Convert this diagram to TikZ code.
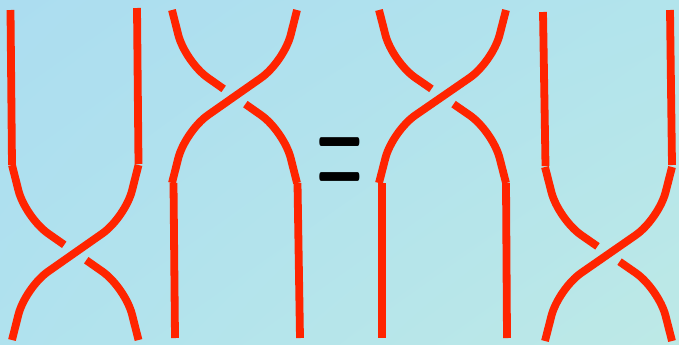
\documentclass[tikz,border=0pt]{standalone}
\usepackage{graphicx}
\usetikzlibrary{shadings}
\definecolor{strandred}{RGB}{255,36,0}
\definecolor{bgTL}{RGB}{172,221,240}
\definecolor{bgTR}{RGB}{178,228,236}
\definecolor{bgBL}{RGB}{176,226,238}
\definecolor{bgBR}{RGB}{189,233,230}
\tikzset{strand/.style={draw=strandred,line width=7.8bp,line cap=butt,rounded corners=28bp}}
\newcommand\braidcross[4]{% x0 y0 w h
  % under strand, top-left to bottom-right, with a gap at the crossing
  \draw[strand] (#1,#2) -- ({#1+0.105*#3},{#2+0.30*#4}) -- ({#1+0.4131*#3},{#2+0.456*#4});
  \draw[strand] ({#1+0.5869*#3},{#2+0.544*#4}) -- ({#1+0.895*#3},{#2+0.70*#4}) -- ({#1+#3},{#2+#4});
  % over strand, top-right to bottom-left
  \draw[strand] ({#1+#3},#2) -- ({#1+0.895*#3},{#2+0.30*#4}) -- ({#1+0.105*#3},{#2+0.70*#4}) -- (#1,{#2+#4});
}
\begin{document}
\begin{tikzpicture}[x=1bp,y=-1bp]
\useasboundingbox (0,0) rectangle (679,344);
\shade[upper left=bgTL,upper right=bgTR,lower left=bgBL,lower right=bgBR] (0,0) rectangle (679,344);
% panel 1
\draw[strand] (10.5,10) -- (12,165);
\draw[strand] (137,8) -- (138.5,164);
\braidcross{12}{165}{126.5}{175}
% panel 2
\braidcross{172}{10}{125}{173}
\draw[strand] (173.5,183) -- (175,338);
\draw[strand] (297.5,183) -- (300,338);
% equals
\node[anchor=base west,inner sep=0pt] (eq) at (316.5,199) {\fontsize{53.6}{55}\selectfont\bfseries\scalebox{1}[3]{=}};
% panel 3
\braidcross{379}{10}{127}{173}
\draw[strand] (382,183) -- (382,338);
\draw[strand] (506,183) -- (507,338);
% panel 4
\draw[strand] (543,12) -- (545.5,166);
\draw[strand] (670,10) -- (672,165);
\braidcross{545}{167}{127}{174}
\end{tikzpicture}
\end{document}
